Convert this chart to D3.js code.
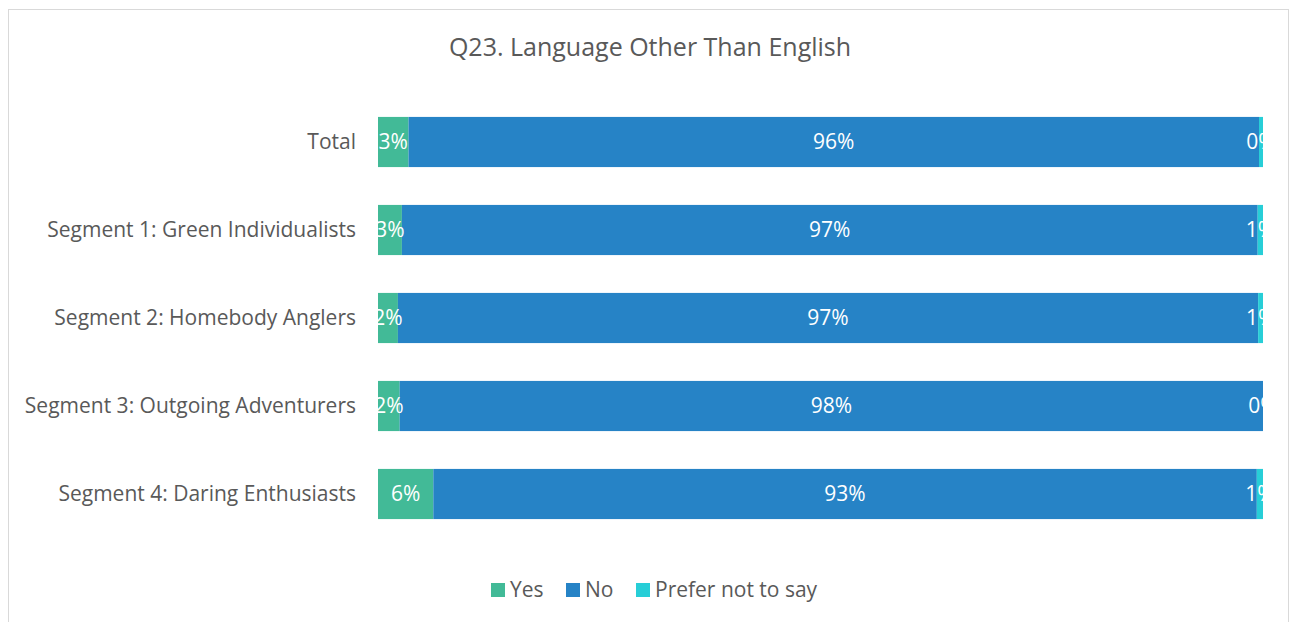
<!DOCTYPE html>
<html>
<head>
<meta charset="utf-8">
<script src="https://cdn.jsdelivr.net/npm/d3@7"></script>
<style>
  html, body { margin: 0; padding: 0; background: #fff; }
  svg { display: block; font-family: "Open Sans", "Noto Sans", sans-serif; }
</style>
</head>
<body>
<svg id="chart" width="1293" height="622"></svg>
<script>
// Survey responses, percent of respondents
const categories = [
  "Total",
  "Segment 1: Green Individualists",
  "Segment 2: Homebody Anglers",
  "Segment 3: Outgoing Adventurers",
  "Segment 4: Daring Enthusiasts"
];
const seriesNames = ["Yes", "No", "Prefer not to say"];
const yesValues    = [3.45, 2.70, 2.25, 2.45, 6.25];
const noValues     = [96.10, 96.70, 97.20, 97.55, 93.05];
const preferValues = [0.45, 0.60, 0.55, 0.00, 0.70];
const seriesColors = ["#42BA97", "#2683C6", "#27CED7"];
const title = "Q23. Language Other Than English";

const rows = categories.map((c, i) => ({
  category: c,
  "Yes": yesValues[i],
  "No": noValues[i],
  "Prefer not to say": preferValues[i]
}));

const svg = d3.select("#chart");
const plot = { left: 378, right: 1263, top: 98, bottom: 538 };
const textColor = "#595959";

// Chart frame
svg.append("rect")
  .attr("x", 8.5).attr("y", 9.5)
  .attr("width", 1280).attr("height", 640)
  .attr("fill", "#fff").attr("stroke", "#d9d9d9").attr("stroke-width", 1);

// Title
svg.append("text")
  .attr("x", 650).attr("y", 56)
  .attr("text-anchor", "middle")
  .attr("fill", textColor)
  .attr("font-size", 25)
  .text(title);

const x = d3.scaleLinear().domain([0, 100]).range([plot.left, plot.right]);
const y = d3.scaleBand().domain(categories)
  .range([plot.top, plot.bottom])
  .paddingInner(0.43).paddingOuter(0.215);
const color = d3.scaleOrdinal().domain(seriesNames).range(seriesColors);

const stacked = d3.stack().keys(seriesNames)(rows);

// Category axis labels
const yAxis = d3.axisLeft(y).tickSize(0).tickPadding(22);
const gy = svg.append("g").attr("transform", `translate(${plot.left},0)`).call(yAxis);
gy.select(".domain").remove();
gy.selectAll("text")
  .attr("fill", textColor)
  .attr("font-size", 21)
  .attr("font-family", "\"Open Sans\", sans-serif");

// Bars
const layers = svg.append("g").selectAll("g")
  .data(stacked).join("g")
  .attr("fill", d => color(d.key));

layers.selectAll("rect")
  .data(d => d.map(v => ({ v, key: d.key })))
  .join("rect")
  .attr("x", d => x(d.v[0]))
  .attr("y", d => y(d.v.data.category))
  .attr("width", d => x(d.v[1]) - x(d.v[0]))
  .attr("height", y.bandwidth());

// Value labels, clipped to the plot area
svg.append("clipPath").attr("id", "plotClip")
  .append("rect")
  .attr("x", plot.left).attr("y", plot.top)
  .attr("width", plot.right - plot.left).attr("height", plot.bottom - plot.top);

const labels = svg.append("g").attr("clip-path", "url(#plotClip)");
stacked.forEach(layer => {
  labels.selectAll(null)
    .data(layer)
    .join("text")
    .attr("x", d => (x(d[0]) + x(d[1])) / 2)
    .attr("y", d => y(d.data.category) + y.bandwidth() / 2)
    .attr("dy", "0.35em")
    .attr("text-anchor", "middle")
    .attr("fill", "#fff")
    .attr("font-size", 21)
    .text(d => Math.round(d[1] - d[0]) + "%");
});

// Legend
const legendItems = [
  { key: "Yes", x: 491 },
  { key: "No", x: 566 },
  { key: "Prefer not to say", x: 636 }
];
const legend = svg.append("g");
legendItems.forEach(item => {
  legend.append("rect")
    .attr("x", item.x).attr("y", 583)
    .attr("width", 14).attr("height", 14)
    .attr("fill", color(item.key));
  legend.append("text")
    .attr("x", item.x + 19).attr("y", 590)
    .attr("dy", "0.35em")
    .attr("fill", textColor)
    .attr("font-size", 21)
    .text(item.key);
});
</script>
</body>
</html>
